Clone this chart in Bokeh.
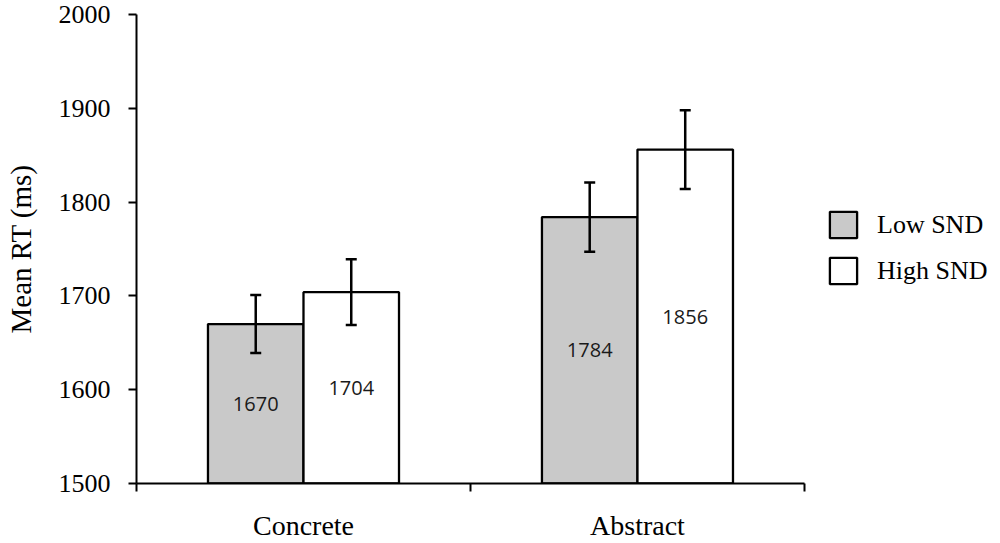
from bokeh.plotting import figure
from bokeh.models import (ColumnDataSource, Range1d, FixedTicker, Whisker, TeeHead,
                          Legend, LegendItem)
from bokeh.transform import dodge
from bokeh.core.properties import value
from bokeh.embed import file_html
from bokeh.resources import INLINE

categories = ["Concrete", "Abstract"]
series_names = ["Low SND", "High SND"]
low_means = [1670, 1784]
high_means = [1704, 1856]
low_errs = [31, 37]
high_errs = [35, 42]
y_ticks = [1500, 1600, 1700, 1800, 1900, 2000]

SERIF = "Liberation Serif"
BAR_W = 0.286
OFF = BAR_W / 2
N = len(categories)
X_EXTRA = 0.587   # empty room right of the axis, where the legend sits

xc = [i + 0.5 for i in range(N)]
src = ColumnDataSource(dict(
    xc=xc,
    low=low_means, high=high_means,
    low_up=[m + e for m, e in zip(low_means, low_errs)],
    low_dn=[m - e for m, e in zip(low_means, low_errs)],
    high_up=[m + e for m, e in zip(high_means, high_errs)],
    high_dn=[m - e for m, e in zip(high_means, high_errs)],
    low_mid=[(y_ticks[0] + m) / 2 for m in low_means],
    high_mid=[(y_ticks[0] + m) / 2 for m in high_means],
    low_lbl=[str(m) for m in low_means],
    high_lbl=[str(m) for m in high_means],
))

p = figure(width=1000, height=543, output_backend="svg", toolbar_location=None,
           x_range=Range1d(0, N + X_EXTRA), y_range=Range1d(y_ticks[0], y_ticks[-1]),
           min_border_left=136, min_border_right=0, min_border_top=14, min_border_bottom=59)
p.outline_line_color = None
p.xgrid.visible = False
p.ygrid.visible = False
p.background_fill_color = "white"

r_low = p.vbar(x=dodge("xc", -OFF), top="low", bottom=y_ticks[0], width=BAR_W, source=src,
               fill_color="#c9c9c9", line_color="black", line_width=2.3)
r_high = p.vbar(x=dodge("xc", OFF), top="high", bottom=y_ticks[0], width=BAR_W, source=src,
                fill_color="white", line_color="black", line_width=2.3)

for xs, up, dn in ((-OFF, "low_up", "low_dn"), (OFF, "high_up", "high_dn")):
    w = Whisker(base=dodge("xc", xs), upper=up, lower=dn, source=src,
                line_color="black", line_width=2.5, level="overlay",
                upper_head=TeeHead(size=11, line_width=2.5, line_color="black"),
                lower_head=TeeHead(size=11, line_width=2.5, line_color="black"))
    p.add_layout(w)

for xs, ycol, tcol in ((-OFF, "low_mid", "low_lbl"), (OFF, "high_mid", "high_lbl")):
    p.text(x=dodge("xc", xs), y=ycol, text=tcol, source=src,
           text_font=value("Open Sans"), text_font_size="20px", text_color="#1a1a1a",
           text_align="center", text_baseline="middle")

# x axis
xa = p.xaxis[0]
xa.bounds = (0, N)
xa.ticker = FixedTicker(ticks=xc, minor_ticks=list(range(N + 1)))
xa.major_label_overrides = {x: c for x, c in zip(xc, categories)}
xa.major_tick_line_color = None
xa.minor_tick_line_color = "black"
xa.minor_tick_line_width = 2
xa.minor_tick_in = 0
xa.minor_tick_out = 8
xa.axis_line_color = "black"
xa.axis_line_width = 2
xa.major_label_text_font = SERIF
xa.major_label_text_font_size = "28px"
xa.major_label_text_color = "black"
xa.major_label_standoff = 18

# y axis
ya = p.yaxis[0]
ya.ticker = FixedTicker(ticks=y_ticks, minor_ticks=[])
ya.axis_label = "Mean RT (ms)"
ya.axis_label_text_font = SERIF
ya.axis_label_text_font_size = "29px"
ya.axis_label_text_font_style = "normal"
ya.axis_label_text_color = "black"
ya.axis_label_standoff = 19
ya.axis_line_color = "black"
ya.axis_line_width = 2
ya.major_tick_line_color = "black"
ya.major_tick_line_width = 2
ya.major_tick_in = 0
ya.major_tick_out = 8
ya.minor_tick_line_color = None
ya.major_label_text_font = SERIF
ya.major_label_text_font_size = "26px"
ya.major_label_text_color = "black"
ya.major_label_standoff = 18

legend = Legend(items=[LegendItem(label=series_names[0], renderers=[r_low]),
                       LegendItem(label=series_names[1], renderers=[r_high])],
                location=(690, 196), orientation="vertical")
legend.glyph_width = 34
legend.glyph_height = 33
legend.label_standoff = 17
legend.spacing = 13
legend.padding = 0
legend.margin = 0
legend.border_line_color = None
legend.background_fill_alpha = 0
legend.label_text_font = SERIF
legend.label_text_font_size = "26px"
legend.label_text_color = "black"
p.add_layout(legend, "center")

open("out.html", "w").write(file_html(p, INLINE))
